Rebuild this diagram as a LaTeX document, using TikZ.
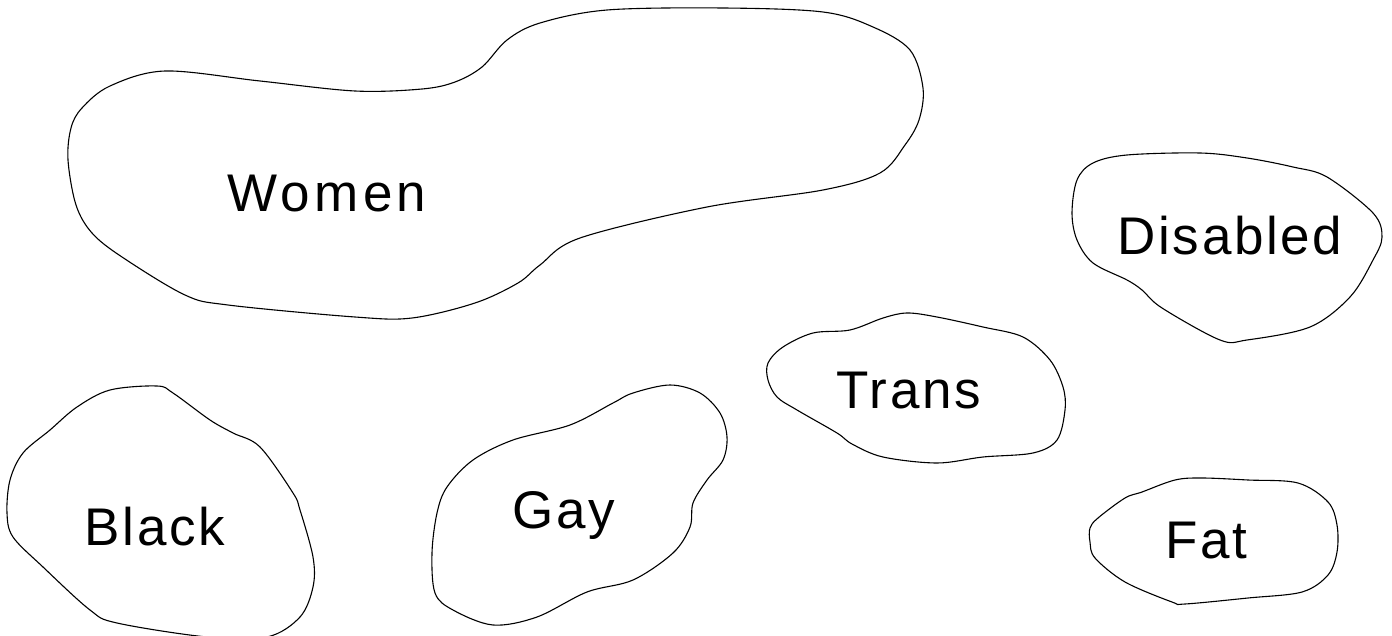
\documentclass[tikz,border=0pt]{standalone}
\usepackage{fontspec}
\setmainfont{Liberation Sans}
\newfontfamily\labfont[LetterSpace=5]{Liberation Sans}
\newfontfamily\labfontw[LetterSpace=8]{Liberation Sans}
\tikzset{
  blob/.style={draw=black, line width=0.55pt, smooth cycle, tension=0.55},
  lab/.style={anchor=base, inner sep=0pt, font=\labfont\fontsize{26.5}{30}\selectfont},
}
\begin{document}
\begin{tikzpicture}[x=0.5pt,y=-0.5pt]
\useasboundingbox (0,0) rectangle (1392,636);
\fill[white] (0,0) rectangle (1392,636);
% Women
\draw[blob] plot coordinates {(165,71) (260,81) (355,91) (422,89) (455,82) (482,67) (507,40) (540,23) (607,10) (723,8) (823,12) (873,27) (910,50) (923,88) (919,120) (905,145) (880,173) (823,190) (707,207) (580,238) (540,265) (518,283) (475,303) (412,318) (355,317) (228,305) (185,295) (122,257) (92,233) (76,205) (68,160) (71,128) (82,108) (110,86)};
% Disabled
\draw[blob] plot coordinates {(1200,153) (1127,155) (1093,163) (1077,180) (1072,213) (1077,240) (1093,263) (1127,280) (1142,290) (1162,308) (1220,340) (1247,340) (1310,327) (1350,297) (1373,260) (1382,237) (1373,213) (1327,177) (1293,167) (1247,158)};
% Trans
\draw[blob] plot coordinates {(907,313) (883,318) (850,330) (813,333) (783,347) (768,363) (768,380) (777,397) (797,410) (837,433) (852,444) (883,457) (937,463) (983,457) (1033,453) (1057,440) (1065,410) (1063,387) (1050,360) (1023,337) (983,327) (937,317)};
% Black
\draw[blob] plot coordinates {(157,386) (110,390) (77,407) (50,430) (23,453) (10,480) (7,513) (13,537) (43,567) (90,610) (117,623) (207,637) (267,637) (300,617) (313,587) (313,557) (300,510) (293,493) (260,447) (233,433) (210,420) (173,393)};
% Gay
\draw[blob] plot coordinates {(670,385) (633,393) (613,403) (570,425) (513,440) (473,460) (447,487) (437,513) (432,553) (435,593) (453,610) (493,625) (537,617) (587,592) (633,580) (673,553) (690,527) (693,503) (707,480) (723,460) (727,437) (720,413) (700,393)};
% Fat
\draw[blob] plot coordinates {(1202,478) (1175,480) (1142,492) (1125,498) (1098,518) (1090,528) (1090,542) (1095,558) (1125,582) (1172,602) (1185,604) (1248,598) (1302,592) (1328,575) (1337,552) (1337,525) (1328,502) (1298,483) (1248,480)};
\node[lab, font=\labfontw\fontsize{26.5}{30}\selectfont] (women) at (327,212) {Women};
\node[lab] (disabled) at (1230,255) {Disabled};
\node[lab] (trans) at (909,408) {Trans};
\node[lab] (black) at (155,545) {Black};
\node[lab] (gay) at (564,528) {Gay};
\node[lab] (fat) at (1206,558) {Fat};
\end{tikzpicture}
\end{document}
